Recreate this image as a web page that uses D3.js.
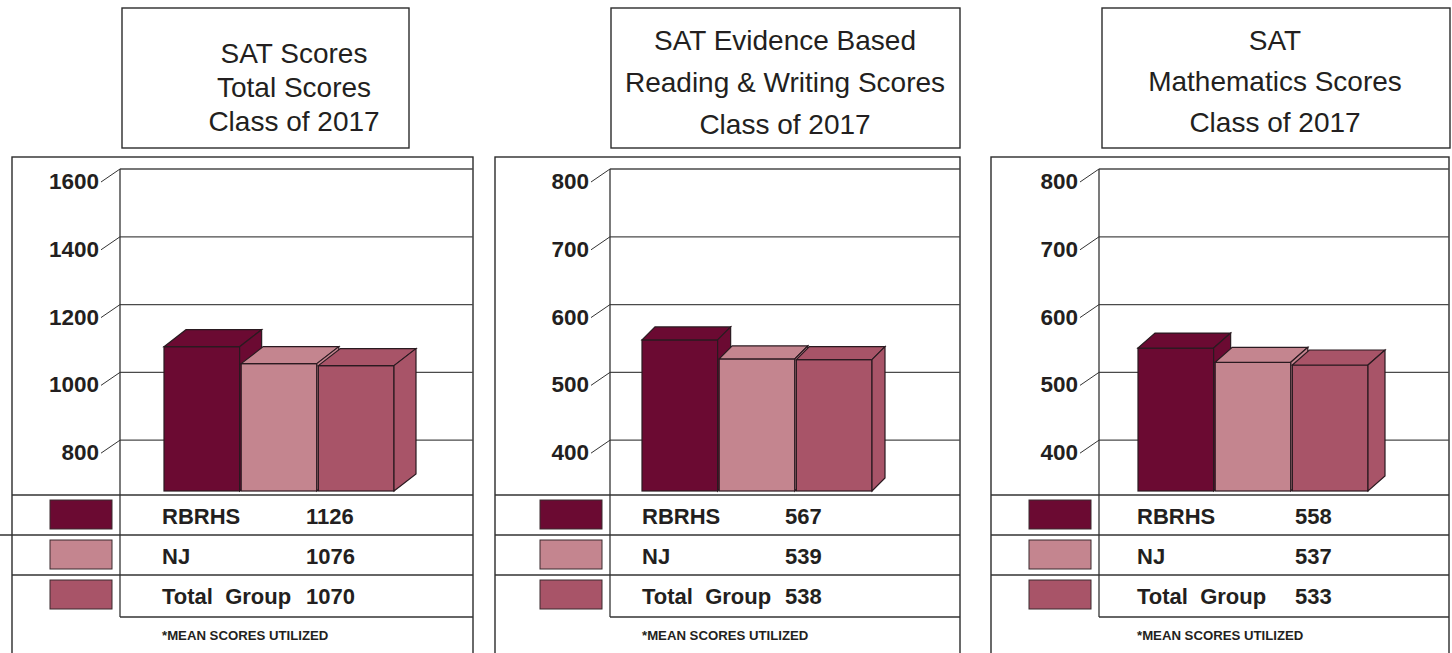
<!DOCTYPE html>
<html>
<head>
<meta charset="utf-8">
<script src="https://cdn.jsdelivr.net/npm/d3@7"></script>
<style>
  body { margin: 0; background: #fff; }
  text { font-family: "Liberation Sans", Arial, Helvetica, sans-serif; fill: #231f20; }
</style>
</head>
<body>
<script>
// chart data
const groups = ["RBRHS", "NJ", "Total  Group"];
const totalScores = [1126, 1076, 1070];
const readingScores = [567, 539, 538];
const mathScores = [558, 537, 533];

const totalTicks = [800, 1000, 1200, 1400, 1600];
const sectionTicks = [400, 500, 600, 700, 800];

const totalTitle = ["SAT Scores", "Total Scores", "Class of 2017"];
const readingTitle = ["SAT Evidence Based", "Reading & Writing Scores", "Class of 2017"];
const mathTitle = ["SAT", "Mathematics Scores", "Class of 2017"];

const footnote = "*MEAN SCORES UTILIZED";
const colors = ["#6b0a32", "#c4858f", "#a85468"];

// layout of the three panels
const panels = [
  { title: totalTitle, values: totalScores, ticks: totalTicks, floor: 650,
    left: 12, right: 473, axis: 120, tb: [122, 409], tcx: 294, ty0: 63, tlh: 34,
    barOff: 44, dx: 22, dy: 17, labX: 42, valX: 186 },
  { title: readingTitle, values: readingScores, ticks: sectionTicks, floor: 325,
    left: 495, right: 960, axis: 610, tb: [611, 960], tcx: 785, ty0: 50, tlh: 42,
    barOff: 32, dx: 13, dy: 13, labX: 32, valX: 175 },
  { title: mathTitle, values: mathScores, ticks: sectionTicks, floor: 325,
    left: 991, right: 1449, axis: 1099, tb: [1102, 1450], tcx: 1275, ty0: 50, tlh: 41,
    barOff: 39, dx: 17, dy: 15, labX: 38, valX: 196 }
];

const W = 1452, H = 653;
const floorY = 491, topY = 169;
const tableTop = 495, rowH = 40, tableBottom = 617;

const svg = d3.select("body").append("svg")
  .attr("width", W).attr("height", H);

panels.forEach((p, pi) => {
  const g = svg.append("g");

  // title box
  g.append("rect")
    .attr("x", p.tb[0]).attr("y", 8)
    .attr("width", p.tb[1] - p.tb[0]).attr("height", 140)
    .attr("fill", "#fff").attr("stroke", "#2b2b2b").attr("stroke-width", 1.4);
  g.selectAll(".title").data(p.title).join("text")
    .attr("x", p.tcx)
    .attr("y", (d, i) => p.ty0 + i * p.tlh)
    .attr("text-anchor", "middle")
    .attr("font-size", 28)
    .text(d => d);

  // panel box (runs off the bottom)
  g.append("rect")
    .attr("x", p.left).attr("y", 157)
    .attr("width", p.right - p.left).attr("height", 560)
    .attr("fill", "#fff").attr("stroke", "#2b2b2b").attr("stroke-width", 1.4);

  const y = d3.scaleLinear()
    .domain([p.floor, d3.max(p.ticks)])
    .range([floorY, topY]);

  const x = d3.scaleBand()
    .domain(groups)
    .range([p.axis + p.barOff, p.axis + p.barOff + 230])
    .paddingInner(0.02);

  // gridlines on the back wall
  g.selectAll(".grid").data(p.ticks).join("line")
    .attr("x1", p.axis).attr("x2", p.right)
    .attr("y1", d => y(d)).attr("y2", d => y(d))
    .attr("stroke", "#4a4a4a").attr("stroke-width", 1.3);

  // slanted tick marks
  g.selectAll(".tick").data(p.ticks).join("line")
    .attr("x1", p.axis - 19).attr("y1", d => y(d) + 13)
    .attr("x2", p.axis).attr("y2", d => y(d))
    .attr("stroke", "#333").attr("stroke-width", 1);

  g.selectAll(".tlabel").data(p.ticks).join("text")
    .attr("x", p.axis - 21)
    .attr("y", d => y(d) + 20)
    .attr("text-anchor", "end")
    .attr("font-size", 22.5)
    .attr("font-weight", "bold")
    .text(d => d);

  // vertical axis line, through the table
  g.append("line")
    .attr("x1", p.axis).attr("x2", p.axis)
    .attr("y1", y(d3.max(p.ticks))).attr("y2", tableBottom)
    .attr("stroke", "#333").attr("stroke-width", 1.3);

  // 3D bars: value sits at the back edge of the top face
  const bars = g.selectAll(".bar").data(p.values).join("g");
  bars.each(function(v, i) {
    const b = d3.select(this);
    const x0 = x(groups[i]), x1 = x0 + x.bandwidth();
    const yf = y(v) + p.dy;
    const stroke = "#2a1a20";
    b.append("rect")
      .attr("x", x0).attr("y", yf)
      .attr("width", x1 - x0).attr("height", floorY - yf)
      .attr("fill", colors[i]).attr("stroke", stroke).attr("stroke-width", 1.2);
    b.append("path")
      .attr("d", `M${x0},${yf}L${x0 + p.dx},${yf - p.dy}L${x1 + p.dx},${yf - p.dy}L${x1},${yf}Z`)
      .attr("fill", colors[i]).attr("stroke", stroke).attr("stroke-width", 1.2);
    b.append("path")
      .attr("d", `M${x1},${yf}L${x1 + p.dx},${yf - p.dy}L${x1 + p.dx},${floorY - p.dy}L${x1},${floorY}Z`)
      .attr("fill", colors[i]).attr("stroke", stroke).attr("stroke-width", 1.2);
  });

  // table lines
  [0, 1, 2].forEach(i => {
    g.append("line")
      .attr("x1", (pi === 0 && i === 1) ? 0 : p.left).attr("x2", p.right)
      .attr("y1", tableTop + i * rowH).attr("y2", tableTop + i * rowH)
      .attr("stroke", "#333").attr("stroke-width", 1.3);
  });
  g.append("line")
    .attr("x1", p.axis).attr("x2", p.right)
    .attr("y1", tableBottom).attr("y2", tableBottom)
    .attr("stroke", "#333").attr("stroke-width", 1.3);

  // legend rows
  const rows = g.selectAll(".row").data(p.values).join("g")
    .attr("transform", (d, i) => `translate(0,${tableTop + i * rowH})`);
  rows.append("rect")
    .attr("x", p.axis - 70).attr("y", 5)
    .attr("width", 62).attr("height", 29)
    .attr("fill", (d, i) => colors[i])
    .attr("stroke", "#3a2a2e").attr("stroke-width", 1);
  rows.append("text")
    .attr("x", p.axis + p.labX).attr("y", 29)
    .attr("font-size", 22).attr("font-weight", "bold")
    .style("white-space", "pre")
    .text((d, i) => groups[i]);
  rows.append("text")
    .attr("x", p.axis + p.valX).attr("y", 29)
    .attr("font-size", 22).attr("font-weight", "bold")
    .text(d => d);

  g.append("text")
    .attr("x", p.axis + p.labX).attr("y", 640)
    .attr("font-size", 13.2).attr("font-weight", "bold")
    .text(footnote);
});
</script>
</body>
</html>
